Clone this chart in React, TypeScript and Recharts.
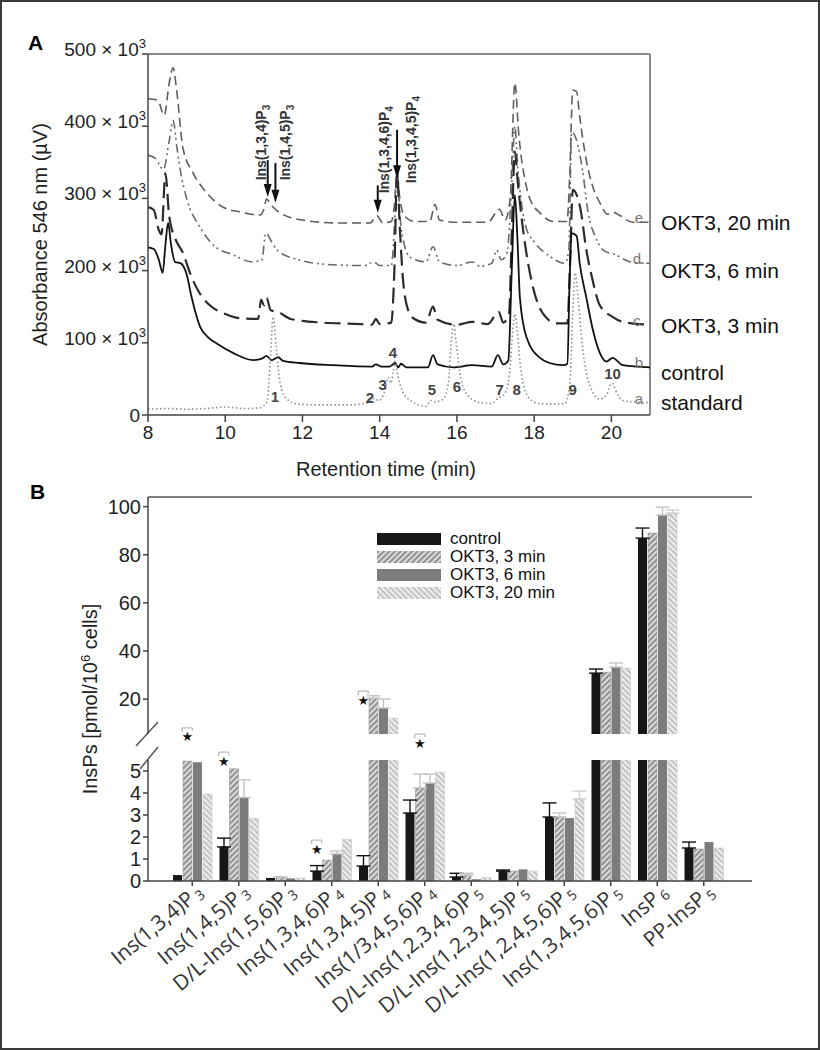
import React from 'react';
import {
  ComposedChart, Line, Bar, XAxis, YAxis, ReferenceLine, ReferenceDot,
  LabelList, Label, ErrorBar, Legend,
} from 'recharts';

const SANS = '"Liberation Sans", Arial, Helvetica, sans-serif';
const CAT_FONT = '"Open Sans", "Liberation Sans", sans-serif';

// ================= Panel A: chromatograms (t in min, value in 10^3 µV) =================
const standardTrace: [number, number][] = [
  [8.0, 8], [8.5, 9], [9.0, 8], [9.5, 9], [10.0, 11], [10.5, 9], [10.9, 10], [11.08, 18], [11.17, 80],
  [11.24, 136], [11.32, 95], [11.42, 45], [11.6, 22], [11.9, 15], [12.5, 14], [13.2, 14], [13.7, 17],
  [13.85, 23], [13.98, 20], [14.12, 32], [14.22, 52], [14.29, 44], [14.35, 60], [14.4, 74], [14.47, 55],
  [14.6, 32], [14.8, 20], [15.0, 14], [15.2, 12], [15.32, 20], [15.42, 18], [15.65, 22], [15.78, 45],
  [15.86, 105], [15.92, 126], [15.99, 95], [16.1, 50], [16.3, 26], [16.6, 17], [16.9, 16], [17.08, 24],
  [17.22, 28], [17.36, 55], [17.45, 120], [17.5, 140], [17.56, 118], [17.66, 60], [17.85, 25], [18.1, 16],
  [18.5, 15], [18.8, 16], [18.92, 40], [19.0, 140], [19.06, 197], [19.14, 160], [19.25, 95], [19.45, 40],
  [19.7, 22], [19.88, 28], [19.96, 40], [20.03, 44], [20.1, 35], [20.3, 20], [20.6, 18], [21.0, 17],
];
const controlTrace: [number, number][] = [
  [8.0, 232], [8.15, 230], [8.28, 215], [8.38, 197], [8.45, 235], [8.52, 266], [8.6, 235], [8.7, 212],
  [8.85, 210], [9.0, 195], [9.13, 163], [9.35, 122], [9.55, 108], [9.78, 99], [10.2, 86], [10.72, 76],
  [10.95, 78], [11.07, 82], [11.2, 76], [11.37, 80], [11.5, 75], [11.93, 72], [12.8, 69], [13.8, 67],
  [13.9, 70], [14.05, 67], [14.25, 67], [14.4, 72], [14.48, 66], [14.55, 71], [14.7, 66], [15.25, 66],
  [15.38, 83], [15.5, 70], [15.9, 66], [16.4, 69], [16.9, 67], [17.06, 83], [17.2, 70], [17.33, 75],
  [17.42, 200], [17.5, 305], [17.57, 240], [17.63, 163], [17.8, 108], [18.15, 79], [18.4, 72], [18.75, 69],
  [18.86, 71], [18.92, 190], [18.97, 252], [19.1, 248], [19.18, 210], [19.35, 163], [19.52, 118],
  [19.7, 86], [19.87, 74], [20.03, 79], [20.3, 69], [21.0, 66],
];
const threeMinTrace: [number, number][] = [
  [8.0, 288], [8.15, 284], [8.28, 256], [8.35, 250], [8.45, 335], [8.55, 275], [8.7, 245], [8.9, 225],
  [9.1, 195], [9.3, 172], [9.6, 152], [10.0, 140], [10.4, 134], [10.85, 133], [10.93, 160], [11.0, 152],
  [11.07, 162], [11.18, 145], [11.35, 143], [11.7, 133], [12.5, 128], [13.5, 126], [13.8, 125],
  [13.9, 133], [14.0, 126], [14.3, 128], [14.38, 200], [14.45, 335], [14.52, 260], [14.6, 190],
  [14.7, 152], [14.87, 134], [15.2, 128], [15.38, 150], [15.5, 132], [16.0, 125], [16.4, 129],
  [16.8, 126], [17.08, 143], [17.2, 128], [17.35, 140], [17.42, 250], [17.5, 365], [17.58, 320],
  [17.7, 262], [17.8, 224], [17.97, 177], [18.22, 141], [18.58, 127], [18.86, 127], [18.93, 210],
  [19.0, 312], [19.1, 305], [19.2, 285], [19.35, 229], [19.5, 190], [19.7, 152], [20.03, 136],
  [20.3, 129], [21.0, 125],
];
const sixMinTrace: [number, number][] = [
  [8.0, 360], [8.2, 355], [8.4, 340], [8.55, 380], [8.65, 408], [8.75, 370], [8.85, 335], [9.0, 300],
  [9.35, 260], [9.7, 235], [10.2, 222], [10.7, 212], [10.95, 215], [11.05, 252], [11.2, 240],
  [11.35, 228], [11.9, 215], [12.8, 208], [13.6, 207], [13.85, 212], [14.0, 207], [14.3, 207],
  [14.38, 260], [14.45, 345], [14.52, 280], [14.62, 240], [14.8, 218], [15.2, 212], [15.38, 233],
  [15.55, 212], [16.0, 207], [16.4, 212], [16.6, 206], [16.9, 210], [17.03, 228], [17.15, 215],
  [17.3, 225], [17.42, 320], [17.5, 400], [17.58, 340], [17.68, 290], [17.8, 258], [18.0, 240],
  [18.4, 220], [18.8, 210], [18.9, 230], [18.97, 392], [19.1, 380], [19.25, 340], [19.4, 280],
  [19.6, 245], [19.8, 228], [20.1, 222], [20.5, 212], [21.0, 210],
];
const twentyMinTrace: [number, number][] = [
  [8.0, 438], [8.25, 436], [8.42, 415], [8.55, 460], [8.65, 481], [8.75, 446], [8.9, 371], [9.17, 335],
  [9.53, 307], [9.94, 288], [10.4, 281], [10.9, 277], [11.0, 285], [11.07, 299], [11.2, 290],
  [11.42, 280], [12.0, 270], [12.9, 266], [13.75, 266], [13.93, 276], [14.08, 266], [14.3, 268],
  [14.38, 290], [14.45, 335], [14.52, 300], [14.65, 275], [14.9, 268], [15.3, 268], [15.43, 292],
  [15.55, 270], [16.0, 267], [16.8, 267], [17.1, 285], [17.25, 270], [17.38, 300], [17.5, 460],
  [17.6, 390], [17.8, 316], [17.9, 298], [18.15, 280], [18.5, 268], [18.85, 268], [18.92, 330],
  [19.0, 450], [19.1, 448], [19.18, 413], [19.35, 353], [19.52, 316], [19.7, 294], [19.9, 278],
  [20.03, 281], [20.2, 277], [20.55, 267], [21.0, 267],
];

const xTicksA = [8, 10, 12, 14, 16, 18, 20];
const yTicksA = [0, 100, 200, 300, 400, 500];

const peakNumbers = [
  { t: 11.29, v: 25, n: '1' }, { t: 13.75, v: 24, n: '2' }, { t: 14.08, v: 42, n: '3' },
  { t: 14.34, v: 86, n: '4' }, { t: 15.35, v: 35, n: '5' }, { t: 16.0, v: 39, n: '6' },
  { t: 17.11, v: 36, n: '7' }, { t: 17.55, v: 36, n: '8' }, { t: 19.0, v: 35, n: '9' },
  { t: 20.03, v: 58, n: '10' },
];
const arrowMarks = [
  { t: 11.1, from: 353, to: 302 }, { t: 11.3, from: 349, to: 294 },
  { t: 13.95, from: 318, to: 280 }, { t: 14.45, from: 395, to: 328 },
];
const arrowTexts = [
  { t: 10.92, v: 325, base: 'Ins(1,3,4)P', sub: '3' },
  { t: 11.55, v: 325, base: 'Ins(1,4,5)P', sub: '3' },
  { t: 14.12, v: 307, base: 'Ins(1,3,4,6)P', sub: '4' },
  { t: 14.82, v: 321, base: 'Ins(1,3,4,5)P', sub: '4' },
];

// ================= Panel B: bar data =================
const catBase = ['Ins(1,3,4)P', 'Ins(1,4,5)P', 'D/L-Ins(1,5,6)P', 'Ins(1,3,4,6)P', 'Ins(1,3,4,5)P',
  'Ins(1/3,4,5,6)P', 'D/L-Ins(1,2,3,4,6)P', 'D/L-Ins(1,2,3,4,5)P', 'D/L-Ins(1,2,4,5,6)P',
  'Ins(1,3,4,5,6)P', 'InsP', 'PP-InsP'];
const catSub = ['3', '3', '3', '4', '4', '4', '5', '5', '5', '5', '6', '5'];

const controlVals = [0.27, 1.55, 0.14, 0.45, 0.68, 3.09, 0.18, 0.45, 2.91, 30.8, 86.9, 1.5];
const controlErrs = [0, 0.4, 0, 0.25, 0.47, 0.59, 0.17, 0.05, 0.64, 1.7, 4.2, 0.27];
const okt3Vals = [5.45, 5.1, 0.16, 0.95, 20.4, 4.23, 0.27, 0.45, 2.91, 31.2, 89.0, 1.45];
const okt3Errs = [0, 0, 0.03, 0, 1.0, 0.63, 0.08, 0, 0.18, 0, 0, 0];
const okt6Vals = [5.4, 3.8, 0.12, 1.23, 16.3, 4.45, 0.08, 0.53, 2.86, 33.3, 96.5, 1.77];
const okt6Errs = [0, 0.8, 0, 0.13, 3.7, 0.41, 0, 0, 0, 1.7, 3.3, 0];
const okt20Vals = [3.95, 2.85, 0.13, 1.9, 12.1, 4.95, 0.15, 0.45, 3.73, 32.9, 97.3, 1.5];
const okt20Errs = [0, 0, 0, 0, 0, 0, 0, 0, 0.36, 0, 1.3, 0];

const starCats = [0, 1, 3, 4, 5];
const starLevels = [6.55, 5.45, 1.45, 19.6, 6.27];
const starOverBar = ['3min', 'control', 'control', 'control', '3min'];
const starPanel = ['lower', 'lower', 'lower', 'upper', 'lower'];

const upperTicks = [20, 40, 60, 80, 100];
const lowerTicks = [0, 1, 2, 3, 4, 5];
const LOWER_MAX = 5.5;
const UPPER_MAX = 104;

// ---------- derived tables ----------
const pts = (arr: [number, number][]) => arr.map(([t, v]) => ({ t, v }));
const categories = catBase.map((b, i) => b + catSub[i]);
const seriesB = [
  { key: 'control', name: 'control', vals: controlVals, errs: controlErrs },
  { key: 'okt3', name: 'OKT3, 3 min', vals: okt3Vals, errs: okt3Errs },
  { key: 'okt6', name: 'OKT3, 6 min', vals: okt6Vals, errs: okt6Errs },
  { key: 'okt20', name: 'OKT3, 20 min', vals: okt20Vals, errs: okt20Errs },
];
const lowerRows = categories.map((name, i) => {
  const row: any = { name };
  seriesB.forEach((s) => {
    const v = s.vals[i];
    row[s.key] = Math.min(v, LOWER_MAX);
    row[s.key + 'Err'] = v <= LOWER_MAX && s.errs[i] ? [0, s.errs[i]] : null;
  });
  return row;
});
const upperRows = categories.map((name, i) => {
  const row: any = { name };
  seriesB.forEach((s) => {
    const v = s.vals[i];
    row[s.key] = v > LOWER_MAX ? v : null;
    row[s.key + 'Err'] = v > LOWER_MAX && s.errs[i] ? [0, s.errs[i]] : null;
  });
  return row;
});
const xMinorA = Array.from({ length: 46 }, (_, k) => 8 + (k * 2) / 7).filter((t) => t <= 21.001);
const yMinorA = Array.from({ length: 26 }, (_, k) => k * 20);
const upperMinor = Array.from({ length: 50 }, (_, k) => 6 + k * 2).filter((v) => v < UPPER_MAX);
const lowerMinor = Array.from({ length: 28 }, (_, k) => +(k * 0.2).toFixed(1));

// ---------- styles ----------
const BAR_SIZE = 9;
const BAR_GAP = 1;
const barStyles: Record<string, any> = {
  control: { fill: '#171717', stroke: 'none', err: '#111' },
  okt3: { fill: 'url(#hatch3)', stroke: '#9a9a9a', err: '#c4c4c4' },
  okt6: { fill: '#7c7c7c', stroke: 'none', err: '#c4c4c4' },
  okt20: { fill: 'url(#hatch20)', stroke: '#c8c8c8', err: '#d0d0d0' },
};
const barOffset: Record<string, number> = {
  control: -1.5 * (BAR_SIZE + BAR_GAP),
  '3min': -0.5 * (BAR_SIZE + BAR_GAP),
};

const traceStyles = [
  { data: twentyMinTrace, letter: 'e', name: 'OKT3, 20 min', stroke: '#5e5e5e', dash: '9 5', w: 1.6, dy: 8 },
  { data: sixMinTrace, letter: 'd.', name: 'OKT3, 6 min', stroke: '#6a6a6a', dash: '9 4 2 3 2 4', w: 1.6, dy: 15 },
  { data: threeMinTrace, letter: 'c.', name: 'OKT3, 3 min', stroke: '#2c2c2c', dash: '16 7', w: 2.2, dy: 8 },
  { data: controlTrace, letter: 'b', name: 'control', stroke: '#111', dash: undefined, w: 1.8, dy: 13 },
  { data: standardTrace, letter: 'a', name: 'standard', stroke: '#8e8e8e', dash: '1.5 2.5', w: 1.6, dy: 7 },
];

// ---------- custom renderers ----------
const SciTick = (props: any) => {
  const { x, y, payload } = props;
  const v = payload.value;
  if (v === 0) {
    return <text x={x - 2} y={y + 7} textAnchor="end" fontSize={19} fontFamily={SANS} fill="#222">0</text>;
  }
  return (
    <text x={x + 4} y={y + 2} textAnchor="end" fontSize={19} fontFamily={SANS} fill="#222">
      {`${v} × 10`}
      <tspan fontSize={13} dy={-8}>3</tspan>
    </text>
  );
};

const endLabel = (letter: string, text: string, last: number, dy: number) => (p: any) => {
  if (p.index !== last) return null;
  return (
    <g>
      <text x={p.x - 11} y={p.y + 1} fontSize={15} fill="#777" fontFamily={SANS} textAnchor="middle">{letter}</text>
      <text x={p.x + 11} y={p.y + dy} fontSize={21} fill="#111" fontFamily={SANS}>{text}</text>
    </g>
  );
};

const ArrowShape = (p: any) => {
  const x = p.x1;
  const top = Math.min(p.y1, p.y2);
  const tip = Math.max(p.y1, p.y2);
  const headLen = 13;
  const headW = 4;
  return (
    <g>
      <line x1={x} y1={top} x2={x} y2={tip - headLen + 2} stroke="#111" strokeWidth={2} />
      <path d={`M${x - headW},${tip - headLen} L${x + headW},${tip - headLen} L${x},${tip} Z`} fill="#111" />
    </g>
  );
};

const arrowTextShape = (base: string, sub: string) => (p: any) => (
  <text transform={`rotate(-90, ${p.cx}, ${p.cy})`} x={p.cx} y={p.cy} dy="0.35em" fontSize={14}
    fontFamily={SANS} fill="#333" fontWeight={600}>
    {base}
    <tspan fontSize={10} dy={4}>{sub}</tspan>
  </text>
);

const peakNumberShape = (n: string) => (p: any) => (
  <text x={p.cx} y={p.cy} textAnchor="middle" dominantBaseline="central" fontSize={15}
    fontWeight={700} fontFamily={SANS} fill="#444">{n}</text>
);

const starShape = (dx: number) => (p: any) => {
  const cx = p.cx + dx;
  return (
    <g>
      <path d={`M${cx - 5},${p.cy - 5} V${p.cy - 9} H${cx + 5} V${p.cy - 6}`} fill="none" stroke="#aaa" strokeWidth={1} />
      <text x={cx} y={p.cy} textAnchor="middle" dominantBaseline="central" fontSize={13} fill="#111"
        fontFamily='"DejaVu Sans", sans-serif'>★</text>
    </g>
  );
};

const CatTick = (props: any) => {
  const { x, y, payload } = props;
  const i = payload.index != null ? payload.index : categories.indexOf(payload.value);
  const ox = x + 12;
  const oy = y + 6;
  return (
    <text x={ox} y={oy} textAnchor="end" transform={`rotate(-40, ${ox}, ${oy})`} fontSize={21}
      fontFamily={CAT_FONT} fill="#333">
      {catBase[i]}
      <tspan fontSize={14} dx={3} dy={3}>{catSub[i]}</tspan>
    </text>
  );
};

const BreakMarks = (side: 'left' | 'right') => (p: any) => {
  const vb = p.viewBox || {};
  const ax = side === 'left' ? vb.x + vb.width : vb.x;
  const top = vb.y;
  const d = side === 'left'
    ? `M${ax - 12},${top - 14} L${ax + 10},${top - 38} M${ax - 8},${top + 9} L${ax + 10},${top - 13}`
    : `M${ax - 14},${top - 13} L${ax + 5},${top - 32} M${ax - 14},${top + 12} L${ax + 5},${top - 7}`;
  return <path d={d} stroke="#555" strokeWidth={1.5} fill="none" />;
};

const legendOrder = seriesB.map((s) => s.name);
const BLegend = (props: any) => {
  const payload = [...(props.payload || [])].sort(
    (a: any, b: any) => legendOrder.indexOf(a.value) - legendOrder.indexOf(b.value),
  );
  return (
    <div style={{ fontFamily: SANS, fontSize: 17, color: '#111' }}>
      {payload.map((p: any) => (
        <div key={p.value} style={{ display: 'flex', alignItems: 'center', height: 18 }}>
          <svg width={64} height={12} style={{ display: 'block' }}>
            <rect x={0} y={0} width={64} height={12} fill={p.color} />
          </svg>
          <span style={{ marginLeft: 9, lineHeight: '18px' }}>{p.value}</span>
        </div>
      ))}
    </div>
  );
};

const axisTickStyle = { fontSize: 20, fill: '#222', fontFamily: SANS };

export default function App() {
  return (
    <div style={{ position: 'absolute', left: 0, top: 0, width: 820, height: 1050, background: '#fff', overflow: 'hidden' }}>
      <svg width={0} height={0} style={{ position: 'absolute' }}>
        <defs>
          <pattern id="hatch3" patternUnits="userSpaceOnUse" width={4} height={4} patternTransform="rotate(45)">
            <rect width={4} height={4} fill="#dadada" />
            <line x1={1} y1={0} x2={1} y2={4} stroke="#8a8a8a" strokeWidth={1.8} />
          </pattern>
          <pattern id="hatch20" patternUnits="userSpaceOnUse" width={4} height={4} patternTransform="rotate(-45)">
            <rect width={4} height={4} fill="#eeeeee" />
            <line x1={1} y1={0} x2={1} y2={4} stroke="#b9b9b9" strokeWidth={1.6} />
          </pattern>
        </defs>
      </svg>

      {/* Panel letters */}
      <div style={{ position: 'absolute', left: 28, top: 31, fontFamily: SANS, fontWeight: 700, fontSize: 21 }}>A</div>
      <div style={{ position: 'absolute', left: 30, top: 480, fontFamily: SANS, fontWeight: 700, fontSize: 21 }}>B</div>

      {/* ===== Panel A ===== */}
      <div style={{ position: 'absolute', left: 0, top: 0 }}>
        <ComposedChart width={820} height={480} margin={{ top: 54, right: 170, bottom: 25, left: 88 }}>
          <XAxis dataKey="t" type="number" domain={[8, 21]} ticks={xTicksA} allowDataOverflow interval={0}
            tickSize={7} tickMargin={4} height={40} stroke="#444" strokeWidth={1.5}
            tick={{ fontSize: 19, fill: '#222', fontFamily: SANS }}>
            <Label content={(p: any) => {
              const vb = p.viewBox || {};
              return (
                <text x={vb.x + vb.width / 2 - 13} y={vb.y + 54} textAnchor="middle" dominantBaseline="central"
                  fontSize={20} fontFamily={SANS} fill="#222">Retention time (min)</text>
              );
            }} />
          </XAxis>
          <XAxis xAxisId="minor" dataKey="t" type="number" domain={[8, 21]} ticks={xMinorA} allowDataOverflow
            interval={0} mirror tick={false} tickSize={5} axisLine={false} height={0} stroke="#444" />
          <YAxis type="number" domain={[0, 500]} ticks={yTicksA} allowDataOverflow interval={0} tickSize={6}
            tickMargin={0} width={60} stroke="#444" strokeWidth={1.5} tick={<SciTick />}>
            <Label content={(p: any) => {
              const vb = p.viewBox || {};
              const cx = vb.x - 48;
              const cy = vb.y + vb.height / 2;
              return (
                <text x={cx} y={cy} transform={`rotate(-90, ${cx}, ${cy})`} textAnchor="middle"
                  dominantBaseline="central" fontSize={20} fontFamily={SANS} fill="#222">Absorbance 546 nm (µV)</text>
              );
            }} />
          </YAxis>
          <YAxis yAxisId="minor" type="number" domain={[0, 500]} ticks={yMinorA} allowDataOverflow mirror
            interval={0} tick={false} tickSize={5} axisLine={false} stroke="#444" />

          <ReferenceLine y={500} stroke="#666" strokeWidth={1.5} />
          <ReferenceLine x={21} stroke="#666" strokeWidth={1.5} />

          {traceStyles.map((s) => (
            <Line key={s.name} data={pts(s.data)} dataKey="v" name={s.name} type="monotone" dot={false}
              activeDot={false} stroke={s.stroke} strokeWidth={s.w} strokeDasharray={s.dash}
              isAnimationActive={false}>
              <LabelList dataKey="v" content={endLabel(s.letter, s.name, s.data.length - 1, s.dy)} />
            </Line>
          ))}

          {arrowMarks.map((a, i) => (
            <ReferenceLine key={'ar' + i} segment={[{ x: a.t, y: a.from }, { x: a.t, y: a.to }]}
              shape={ArrowShape} />
          ))}
          {arrowTexts.map((a, i) => (
            <ReferenceDot key={'at' + i} x={a.t} y={a.v} r={1} shape={arrowTextShape(a.base, a.sub)} />
          ))}
          {peakNumbers.map((p, i) => (
            <ReferenceDot key={'pn' + i} x={p.t} y={p.v} r={1} shape={peakNumberShape(p.n)} />
          ))}
        </ComposedChart>
      </div>

      {/* ===== Panel B: y-axis title ===== */}
      <div style={{
        position: 'absolute', left: 90 - 140, top: 699 - 13, width: 280, height: 26, lineHeight: '26px',
        textAlign: 'center', transform: 'rotate(-90deg)', fontFamily: SANS, fontSize: 20, color: '#222',
        whiteSpace: 'nowrap',
      }}>
        InsPs [pmol/10<sup style={{ fontSize: 13, verticalAlign: 'top', lineHeight: '18px' }}>6</sup> cells]
      </div>

      {/* ===== Panel B upper (above break) ===== */}
      <div style={{ position: 'absolute', left: 0, top: 440 }}>
        <ComposedChart width={820} height={300} data={upperRows} barGap={BAR_GAP}
          margin={{ top: 57, right: 68, bottom: 6, left: 98 }}>
          <XAxis dataKey="name" hide height={0} padding={{ left: 21, right: 25 }} />
          <YAxis type="number" domain={[LOWER_MAX, UPPER_MAX]} ticks={upperTicks} allowDataOverflow interval={0}
            tickSize={5} tickMargin={2} width={50} stroke="#444" strokeWidth={1.5} tick={axisTickStyle} />
          <YAxis yAxisId="minor" type="number" domain={[LOWER_MAX, UPPER_MAX]} ticks={upperMinor}
            allowDataOverflow interval={0} mirror tick={false} tickSize={4} axisLine={false} stroke="#555" />
          <YAxis yAxisId="frame" orientation="right" type="number" domain={[0, 1]} tick={false}
            tickLine={false} width={0} stroke="#555" strokeWidth={1.5} />
          <ReferenceLine y={UPPER_MAX} stroke="#555" strokeWidth={1.5} />
          {seriesB.map((s) => (
            <Bar key={s.key} dataKey={s.key} name={s.name} barSize={BAR_SIZE} fill={barStyles[s.key].fill}
              stroke={barStyles[s.key].stroke} strokeWidth={0.6} isAnimationActive={false}>
              <ErrorBar dataKey={s.key + 'Err'} width={7} stroke={barStyles[s.key].err} strokeWidth={1.4} direction="y" />
            </Bar>
          ))}
          {starCats.map((c, i) => starPanel[i] === 'upper' ? (
            <ReferenceDot key={'su' + i} x={categories[c]} y={starLevels[i]} r={1} ifOverflow="visible"
              shape={starShape(barOffset[starOverBar[i]])} />
          ) : null)}
          <Legend layout="vertical" align="center" verticalAlign="middle" content={BLegend}
            wrapperStyle={{ left: 377, top: 90, width: 200 }} />
        </ComposedChart>
      </div>

      {/* ===== Panel B lower (below break) ===== */}
      <div style={{ position: 'absolute', left: 0, top: 690 }}>
        <ComposedChart width={820} height={340} data={lowerRows} barGap={BAR_GAP}
          margin={{ top: 70, right: 68, bottom: 9, left: 98 }}>
          <XAxis dataKey="name" interval={0} height={140} padding={{ left: 21, right: 25 }} tickSize={5}
            tickMargin={2} stroke="#444" strokeWidth={1.5} tick={<CatTick />} />
          <YAxis type="number" domain={[0, LOWER_MAX]} ticks={lowerTicks} allowDataOverflow interval={0} tickSize={5}
            tickMargin={2} width={50} stroke="#444" strokeWidth={1.5} tick={axisTickStyle}>
            <Label content={BreakMarks('left')} />
          </YAxis>
          <YAxis yAxisId="minor" type="number" domain={[0, LOWER_MAX]} ticks={lowerMinor} allowDataOverflow
            interval={0} mirror tick={false} tickSize={4} axisLine={false} stroke="#555" />
          <YAxis yAxisId="frame" orientation="right" type="number" domain={[0, 1]} tick={false}
            tickLine={false} width={0} stroke="#555" strokeWidth={1.5}>
            <Label content={BreakMarks('right')} />
          </YAxis>
          {seriesB.map((s) => (
            <Bar key={s.key} dataKey={s.key} name={s.name} barSize={BAR_SIZE} fill={barStyles[s.key].fill}
              stroke={barStyles[s.key].stroke} strokeWidth={0.6} isAnimationActive={false}>
              <ErrorBar dataKey={s.key + 'Err'} width={7} stroke={barStyles[s.key].err} strokeWidth={1.4} direction="y" />
            </Bar>
          ))}
          {starCats.map((c, i) => starPanel[i] === 'lower' ? (
            <ReferenceDot key={'sl' + i} x={categories[c]} y={starLevels[i]} r={1} ifOverflow="visible"
              shape={starShape(barOffset[starOverBar[i]])} />
          ) : null)}
        </ComposedChart>
      </div>

      {/* outer frame */}
      <div style={{ position: 'absolute', left: 0, top: 0, width: 820, height: 1050, boxSizing: 'border-box',
        border: '2px solid #3a3a3a', pointerEvents: 'none' }} />
    </div>
  );
}
